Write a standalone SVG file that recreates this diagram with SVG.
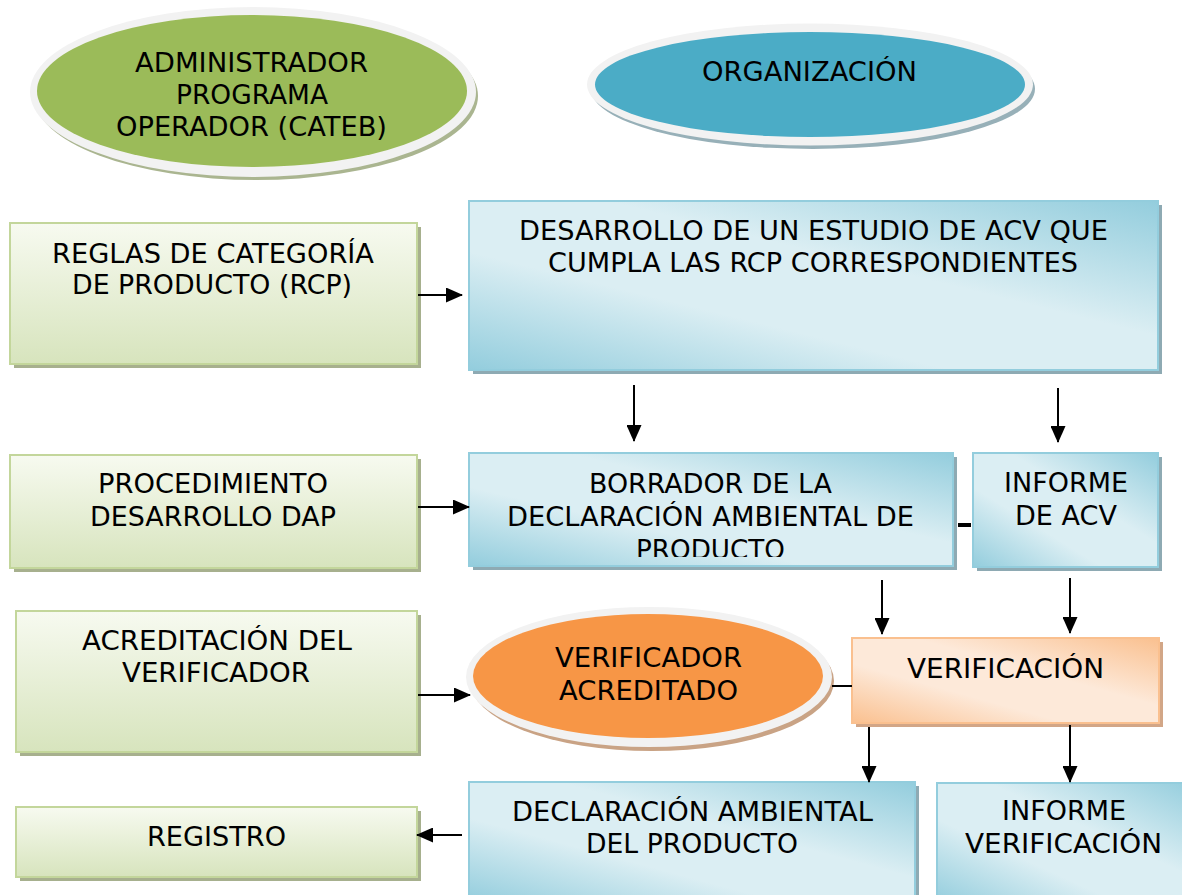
<svg xmlns="http://www.w3.org/2000/svg" width="1182" height="895" viewBox="0 0 1182 895">
<defs>
<linearGradient id="gBlue" x1="1" y1="0" x2="0" y2="1">
<stop offset="0" stop-color="#93cddd"/>
<stop offset="0.4" stop-color="#dbeef3"/>
<stop offset="0.65" stop-color="#dbeef3"/>
<stop offset="1" stop-color="#93cddd"/>
</linearGradient>
<linearGradient id="gGreen" x1="0" y1="0" x2="0" y2="1">
<stop offset="0" stop-color="#f7faf0"/>
<stop offset="1" stop-color="#d7e4bd"/>
</linearGradient>
<linearGradient id="gOrange" x1="1" y1="0" x2="0" y2="1">
<stop offset="0" stop-color="#fac08f"/>
<stop offset="0.4" stop-color="#fde9d9"/>
<stop offset="0.65" stop-color="#fde9d9"/>
<stop offset="1" stop-color="#fac08f"/>
</linearGradient>
<marker id="arr" markerUnits="userSpaceOnUse" markerWidth="17" markerHeight="15" refX="16" refY="7.5" orient="auto">
<path d="M0,0 L17,7.5 L0,15 Z" fill="#000"/>
</marker>
<clipPath id="clipBorr"><rect x="469" y="453" width="484" height="104"/></clipPath>
</defs>
<style>
text{font-family:"DejaVu Sans","Liberation Sans",sans-serif;font-size:27px;fill:#000;text-anchor:middle}
.sm{font-size:26px}
.blue{fill:url(#gBlue);stroke:#93cddd;stroke-width:2}
.green{fill:url(#gGreen);stroke:#c3d69b;stroke-width:2}
.orange{fill:url(#gOrange);stroke:#fac08f;stroke-width:2}
.shB{fill:#8eaab3}
.shG{fill:#a7b08e}
.shO{fill:#d2a687}
.rim{fill:#f2f2f2}
.conn{stroke:#000;stroke-width:2;fill:none}
</style>
<rect width="1182" height="895" fill="#fff"/>

<g id="admin">
<ellipse cx="256" cy="96" rx="222" ry="84" fill="#aab590"/>
<ellipse cx="253" cy="92" rx="223" ry="85" class="rim"/>
<ellipse cx="252" cy="91" rx="215" ry="76" fill="#9bbb59"/>
<text x="251.5" y="72" textLength="233" lengthAdjust="spacingAndGlyphs">ADMINISTRADOR</text>
<text x="252" y="104" textLength="152" lengthAdjust="spacingAndGlyphs">PROGRAMA</text>
<text x="251.5" y="136" textLength="271" lengthAdjust="spacingAndGlyphs">OPERADOR (CATEB)</text>
</g>

<g id="org">
<ellipse cx="813" cy="89" rx="222" ry="60" fill="#97b0b8"/>
<ellipse cx="810" cy="84.5" rx="223" ry="61" class="rim"/>
<ellipse cx="810" cy="84.5" rx="215" ry="52.5" fill="#4bacc6"/>
<text x="809.5" y="81" textLength="215" lengthAdjust="spacingAndGlyphs">ORGANIZACIÓN</text>
</g>

<g id="rcp">
<rect x="14" y="227" width="407" height="141" class="shG"/>
<rect x="10" y="223" width="407" height="141" class="green"/>
<text x="213" y="263" textLength="322" lengthAdjust="spacingAndGlyphs">REGLAS DE CATEGORÍA</text>
<text x="212" y="294" textLength="280" lengthAdjust="spacingAndGlyphs">DE PRODUCTO (RCP)</text>
</g>

<g id="desarrollo">
<rect x="473" y="205" width="689" height="169" class="shB"/>
<rect x="469" y="201" width="689" height="169" class="blue"/>
<text class="sm" x="813.5" y="240" textLength="589" lengthAdjust="spacingAndGlyphs">DESARROLLO DE UN ESTUDIO DE ACV QUE</text>
<text class="sm" x="813" y="272" textLength="530" lengthAdjust="spacingAndGlyphs">CUMPLA LAS RCP CORRESPONDIENTES</text>
</g>

<g id="procedimiento">
<rect x="14" y="459" width="407" height="113" class="shG"/>
<rect x="10" y="455" width="407" height="113" class="green"/>
<text x="213" y="493" textLength="230" lengthAdjust="spacingAndGlyphs">PROCEDIMIENTO</text>
<text x="213" y="526" textLength="246" lengthAdjust="spacingAndGlyphs">DESARROLLO DAP</text>
</g>

<g id="borrador">
<rect x="473" y="457" width="484" height="113" class="shB"/>
<rect x="469" y="453" width="484" height="113" class="blue"/>
<text x="710.5" y="493" textLength="243" lengthAdjust="spacingAndGlyphs">BORRADOR DE LA</text>
<text x="710.5" y="526" textLength="407" lengthAdjust="spacingAndGlyphs">DECLARACIÓN AMBIENTAL DE</text>
<text x="710.5" y="559" textLength="149" lengthAdjust="spacingAndGlyphs" clip-path="url(#clipBorr)">PRODUCTO</text>
</g>

<g id="informeacv">
<rect x="977" y="457" width="185" height="114" class="shB"/>
<rect x="973" y="453" width="185" height="114" class="blue"/>
<text x="1066" y="492" textLength="124" lengthAdjust="spacingAndGlyphs">INFORME</text>
<text x="1066" y="525" textLength="102" lengthAdjust="spacingAndGlyphs">DE ACV</text>
</g>

<g id="acreditacion">
<rect x="20" y="615" width="401" height="141" class="shG"/>
<rect x="16" y="611" width="401" height="141" class="green"/>
<text x="217" y="650" textLength="270" lengthAdjust="spacingAndGlyphs">ACREDITACIÓN DEL</text>
<text x="216" y="682" textLength="188" lengthAdjust="spacingAndGlyphs">VERIFICADOR</text>
</g>

<g id="verificador">
<ellipse cx="652" cy="681" rx="182" ry="70" fill="#c9a385"/>
<ellipse cx="649" cy="677" rx="183" ry="70" class="rim"/>
<ellipse cx="648" cy="676" rx="175" ry="62" fill="#f79646"/>
<text x="648.5" y="667" textLength="187" lengthAdjust="spacingAndGlyphs">VERIFICADOR</text>
<text x="648.5" y="700" textLength="179" lengthAdjust="spacingAndGlyphs">ACREDITADO</text>
</g>

<g id="verificacion">
<rect x="856" y="642" width="307" height="85" class="shO"/>
<rect x="852" y="638" width="307" height="85" class="orange"/>
<text x="1005.5" y="678" textLength="197" lengthAdjust="spacingAndGlyphs">VERIFICACIÓN</text>
</g>

<g id="declaracion">
<rect x="473" y="786" width="446" height="120" class="shB"/>
<rect x="469" y="782" width="446" height="120" class="blue"/>
<text x="692.5" y="821" textLength="361" lengthAdjust="spacingAndGlyphs">DECLARACIÓN AMBIENTAL</text>
<text x="692" y="853" textLength="212" lengthAdjust="spacingAndGlyphs">DEL PRODUCTO</text>
</g>

<g id="registro">
<rect x="20" y="811" width="401" height="70" class="shG"/>
<rect x="16" y="807" width="401" height="70" class="green"/>
<text x="216.5" y="846" textLength="139" lengthAdjust="spacingAndGlyphs">REGISTRO</text>
</g>

<g id="informever">
<rect x="941" y="787" width="260" height="120" class="shB"/>
<rect x="937" y="783" width="260" height="120" class="blue"/>
<text x="1064" y="820" textLength="124" lengthAdjust="spacingAndGlyphs">INFORME</text>
<text x="1063.5" y="853" textLength="197" lengthAdjust="spacingAndGlyphs">VERIFICACIÓN</text>
</g>

<g id="connectors">
<line class="conn" x1="418" y1="295" x2="462" y2="295" marker-end="url(#arr)"/>
<line class="conn" x1="634" y1="385" x2="634" y2="441" marker-end="url(#arr)"/>
<line class="conn" x1="1058" y1="388" x2="1058" y2="442" marker-end="url(#arr)"/>
<line class="conn" x1="418" y1="507" x2="469" y2="507" marker-end="url(#arr)"/>
<line x1="958" y1="525" x2="971" y2="525" stroke="#000" stroke-width="4"/>
<line class="conn" x1="882" y1="580" x2="882" y2="634" marker-end="url(#arr)"/>
<line class="conn" x1="1070" y1="578" x2="1070" y2="633" marker-end="url(#arr)"/>
<line class="conn" x1="418" y1="695" x2="470" y2="695" marker-end="url(#arr)"/>
<line class="conn" x1="832" y1="686" x2="852" y2="686"/>
<line class="conn" x1="869" y1="727" x2="869" y2="782" marker-end="url(#arr)"/>
<line class="conn" x1="1070" y1="725" x2="1070" y2="782" marker-end="url(#arr)"/>
<line class="conn" x1="462" y1="835" x2="417" y2="835" marker-end="url(#arr)"/>
</g>
</svg>
